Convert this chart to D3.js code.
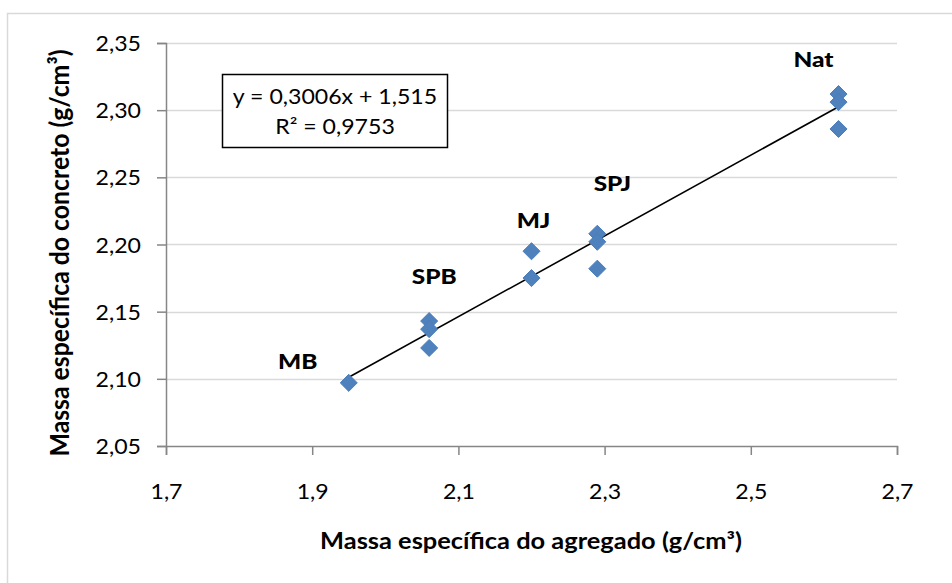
<!DOCTYPE html>
<html>
<head>
<meta charset="utf-8">
<script src="https://cdn.jsdelivr.net/npm/d3@7"></script>
<style>
  body { margin: 0; background: #fff; }
  text { font-family: Lato, "Open Sans", sans-serif; fill: #000; }
</style>
</head>
<body>
<svg id="chart" width="952" height="583"></svg>
<script>
// Aggregate groups and their specific mass (g/cm³)
const groups = ["MB", "SPB", "MJ", "SPJ", "Nat"];
const aggregateDensity = [1.95, 2.06, 2.20, 2.29, 2.62];
// Concrete specific mass measured for each group (g/cm³)
const concreteDensity = [
  [2.097],
  [2.143, 2.137, 2.123],
  [2.195, 2.175],
  [2.208, 2.202, 2.182],
  [2.312, 2.306, 2.286]
];
const xTicks = [1.7, 1.9, 2.1, 2.3, 2.5, 2.7];
const yTicks = [2.05, 2.10, 2.15, 2.20, 2.25, 2.30, 2.35];
// Linear fit
const slope = 0.3006;
const intercept = 1.515;
const rSquared = 0.9753;

const xTitle = "Massa específica do agregado (g/cm³)";
const yTitle = "Massa específica do concreto (g/cm³)";

const fmtComma = (v, d) => v.toFixed(d).replace(".", ",");

const svg = d3.select("#chart");
const W = 952, H = 583;
const plot = { left: 166, right: 897, top: 43, bottom: 446 };

const x = d3.scaleLinear().domain([1.7, 2.7]).range([plot.left, plot.right]);
const y = d3.scaleLinear().domain([2.05, 2.35]).range([plot.bottom, plot.top]);

// Text helper: horizontally widened glyphs
function stext(parent, px, py, str, opt) {
  return parent.append("text")
    .attr("transform", `translate(${px},${py}) scale(${opt.sx || 1},1)` + (opt.rotate ? ` rotate(${opt.rotate})` : ""))
    .attr("text-anchor", opt.anchor || "middle")
    .style("font-size", opt.size + "px")
    .style("font-weight", opt.weight || 400)
    .text(str);
}

// Outer chart frame
svg.append("rect")
  .attr("x", 7.5).attr("y", 13.5)
  .attr("width", W + 20).attr("height", H + 20)
  .attr("fill", "#fff").attr("stroke", "#d9d9d9").attr("stroke-width", 1.5);

// Horizontal gridlines
svg.append("g")
  .selectAll("line")
  .data(yTicks.slice(1))
  .join("line")
  .attr("x1", plot.left).attr("x2", plot.right)
  .attr("y1", d => Math.round(y(d)) + 0.5).attr("y2", d => Math.round(y(d)) + 0.5)
  .attr("stroke", "#d9d9d9").attr("stroke-width", 1.5);

// Axes
const xAxis = d3.axisBottom(x).tickValues(xTicks).tickSize(9).tickFormat(d => fmtComma(d, 1));
const yAxis = d3.axisLeft(y).tickValues(yTicks).tickSize(9).tickFormat(d => fmtComma(d, 2));

const gx = svg.append("g").attr("transform", `translate(0,${plot.bottom})`).call(xAxis);
const gy = svg.append("g").attr("transform", `translate(${plot.left},0)`).call(yAxis);

[gx, gy].forEach(g => {
  g.select(".domain").attr("stroke", "#868686").attr("stroke-width", 1.5);
  g.selectAll(".tick line").attr("stroke", "#868686").attr("stroke-width", 1.5);
  g.selectAll(".tick text").remove();
});

// Tick labels
gx.selectAll(".tick").each(function (d) {
  stext(d3.select(this), 0, 53, fmtComma(d, 1), { size: 21, sx: 1.1 });
});
gy.selectAll(".tick").each(function (d) {
  stext(d3.select(this), -25, 7.5, fmtComma(d, 2), { size: 21, sx: 1.1, anchor: "end" });
});

// Axis titles
stext(svg, 531, 549, xTitle, { size: 22.5, weight: 700, sx: 1.13 });
stext(svg, 69, 253, yTitle, { size: 24.8, weight: 700, sx: 1.06, rotate: -90 });

// Trendline over the data range
const xMin = d3.min(aggregateDensity), xMax = d3.max(aggregateDensity);
svg.append("line")
  .attr("x1", x(xMin)).attr("y1", y(slope * xMin + intercept))
  .attr("x2", x(xMax)).attr("y2", y(slope * xMax + intercept))
  .attr("stroke", "#000").attr("stroke-width", 1.6);

// Points (diamond markers)
const points = groups.flatMap((g, i) => concreteDensity[i].map(v => ({ g, xv: aggregateDensity[i], yv: v })));
const diamond = d3.symbol().type(d3.symbolDiamond2).size(185);
svg.append("g")
  .selectAll("path")
  .data(points)
  .join("path")
  .attr("d", diamond)
  .attr("transform", d => `translate(${x(d.xv)},${y(d.yv)})`)
  .attr("fill", "#4f81bd").attr("stroke", "#4a7ebb").attr("stroke-width", 1);

// Group labels, placed relative to each group's top point
const labelOffsets = [[-51, -14], [5, -37], [2, -23], [15, -43], [-25, -27]];
groups.forEach((g, i) => {
  const px = x(aggregateDensity[i]) + labelOffsets[i][0];
  const py = y(d3.max(concreteDensity[i])) + labelOffsets[i][1];
  stext(svg, px, py, g, { size: 20, weight: 900, sx: 1.22 });
});

// Regression equation box
const box = svg.append("g");
box.append("rect")
  .attr("x", 222.5).attr("y", 74.5).attr("width", 225).attr("height", 73)
  .attr("fill", "#fff").attr("stroke", "#000").attr("stroke-width", 1.5);
stext(box, 335, 104, `y = ${fmtComma(slope, 4)}x + ${fmtComma(intercept, 3)}`, { size: 21, sx: 1.1 });
stext(box, 335, 134, `R² = ${fmtComma(rSquared, 4)}`, { size: 21, sx: 1.1 });
</script>
</body>
</html>
